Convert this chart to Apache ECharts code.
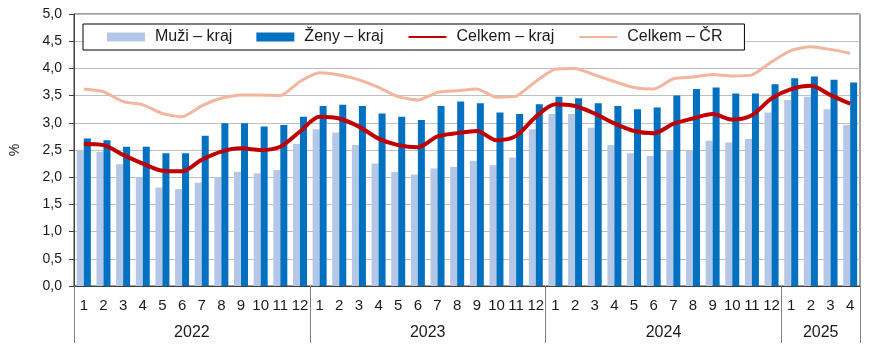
<!DOCTYPE html>
<html>
<head>
<meta charset="utf-8">
<script src="https://cdn.jsdelivr.net/npm/echarts@6/dist/echarts.min.js"></script>
<style>
html,body{margin:0;padding:0;background:#fff;}
#chart{width:873px;height:351px;}
</style>
</head>
<body>
<div id="chart"></div>
<script>
// data
var months=['1','2','3','4','5','6','7','8','9','10','11','12','1','2','3','4','5','6','7','8','9','10','11','12','1','2','3','4','5','6','7','8','9','10','11','12','1','2','3','4'];
var years=['2022','2023','2024','2025'];
var monthsPerYear=[12,12,12,4];
var muzi=[2.50,2.47,2.24,2.00,1.81,1.78,1.90,2.00,2.10,2.07,2.13,2.61, 2.88,2.82,2.59,2.25,2.10,2.05,2.16,2.19,2.30,2.22,2.36,2.88, 3.16,3.16,2.91,2.59,2.44,2.39,2.49,2.50,2.67,2.64,2.70,3.19, 3.42,3.48,3.25,2.96];
var zeny=[2.71,2.68,2.56,2.56,2.44,2.44,2.76,2.99,2.99,2.93,2.96,3.11, 3.31,3.33,3.31,3.17,3.11,3.05,3.31,3.39,3.36,3.19,3.16,3.34, 3.48,3.45,3.36,3.31,3.25,3.28,3.50,3.62,3.65,3.54,3.54,3.71, 3.82,3.85,3.79,3.74];
var celkemKraj=[2.61,2.59,2.41,2.25,2.12,2.11,2.32,2.47,2.53,2.50,2.56,2.84, 3.11,3.08,2.93,2.71,2.59,2.55,2.75,2.81,2.85,2.68,2.76,3.11, 3.34,3.31,3.17,2.99,2.85,2.81,2.98,3.08,3.16,3.06,3.14,3.45, 3.62,3.68,3.51,3.35];
var celkemCR=[3.62,3.57,3.39,3.33,3.17,3.11,3.31,3.45,3.51,3.51,3.50,3.76, 3.92,3.88,3.79,3.65,3.48,3.42,3.56,3.59,3.62,3.47,3.49,3.76, 3.99,4.00,3.88,3.76,3.65,3.62,3.81,3.84,3.89,3.86,3.88,4.12, 4.33,4.40,4.35,4.28];

// hranice a stredy roku
var yearEdges=[0],yearMids=[],acc=0;
for(var i=0;i<monthsPerYear.length;i++){
    yearMids.push(acc+monthsPerYear[i]/2);
    acc+=monthsPerYear[i];
    yearEdges.push(acc);
}
var font='"Liberation Sans", Arial, sans-serif';

var myChart=echarts.init(document.getElementById('chart'));
var option={
    animation:false,
    grid:{left:68,right:13,top:14,bottom:65,show:true,borderColor:'#404040',borderWidth:1,backgroundColor:'transparent'},
    legend:{
        left:83,top:24,
        padding:[5,22,5,24],
        itemGap:24,
        itemWidth:38,itemHeight:9,
        borderColor:'#000',borderWidth:1,backgroundColor:'#fff',
        textStyle:{fontFamily:font,fontSize:16,color:'#1a1a1a',padding:[0,0,0,5]},
        data:[
            {name:'Muži – kraj',icon:'rect'},
            {name:'Ženy – kraj',icon:'rect'},
            {name:'Celkem – kraj',itemStyle:{opacity:0}},
            {name:'Celkem – ČR',itemStyle:{opacity:0}}
        ]
    },
    xAxis:[{
        type:'category',
        data:months,
        boundaryGap:true,
        axisLine:{lineStyle:{color:'#404040',width:1}},
        axisTick:{interval:0,length:29,lineStyle:{color:'#808080'}},
        axisLabel:{interval:0,margin:12,fontFamily:font,fontSize:15,color:'#1a1a1a'}
    },{
        type:'value',
        position:'bottom',
        min:0,max:months.length,
        splitLine:{show:false},
        axisLine:{show:false},
        axisTick:{show:true,length:57,customValues:yearEdges,lineStyle:{color:'#808080'}},
        axisLabel:{customValues:yearMids,margin:39,fontFamily:font,fontSize:16,color:'#1a1a1a',
            formatter:function(v){return years[yearMids.indexOf(v)]||'';}}
    }],
    yAxis:{
        type:'value',
        min:0,max:5,interval:0.5,
        name:'%',nameLocation:'middle',nameGap:52,nameRotate:90,
        nameTextStyle:{fontFamily:font,fontSize:14,color:'#1a1a1a'},
        axisLine:{show:true,lineStyle:{color:'#404040'}},
        axisTick:{show:true,length:5,lineStyle:{color:'#404040'}},
        splitLine:{lineStyle:{color:'#bfbfbf',width:1}},
        axisLabel:{margin:12,fontFamily:font,fontSize:14,color:'#1a1a1a',
            formatter:function(v){return v.toFixed(1).replace('.',',');}}
    },
    series:[
        {name:'Muži – kraj',type:'bar',data:muzi,barWidth:7,barGap:'0%',itemStyle:{color:'#b4c7e7'}},
        {name:'Ženy – kraj',type:'bar',data:zeny,barWidth:7,barGap:'0%',itemStyle:{color:'#0070c0'}},
        {name:'Celkem – kraj',type:'line',data:celkemKraj,symbol:'none',smooth:0.3,
            lineStyle:{color:'#c00000',width:4},itemStyle:{color:'#c00000'},z:4},
        {name:'Celkem – ČR',type:'line',data:celkemCR,symbol:'none',smooth:0.2,
            lineStyle:{color:'#f2b59d',width:3},itemStyle:{color:'#f2b59d'},z:3}
    ]
};
myChart.setOption(option);
</script>
</body>
</html>
